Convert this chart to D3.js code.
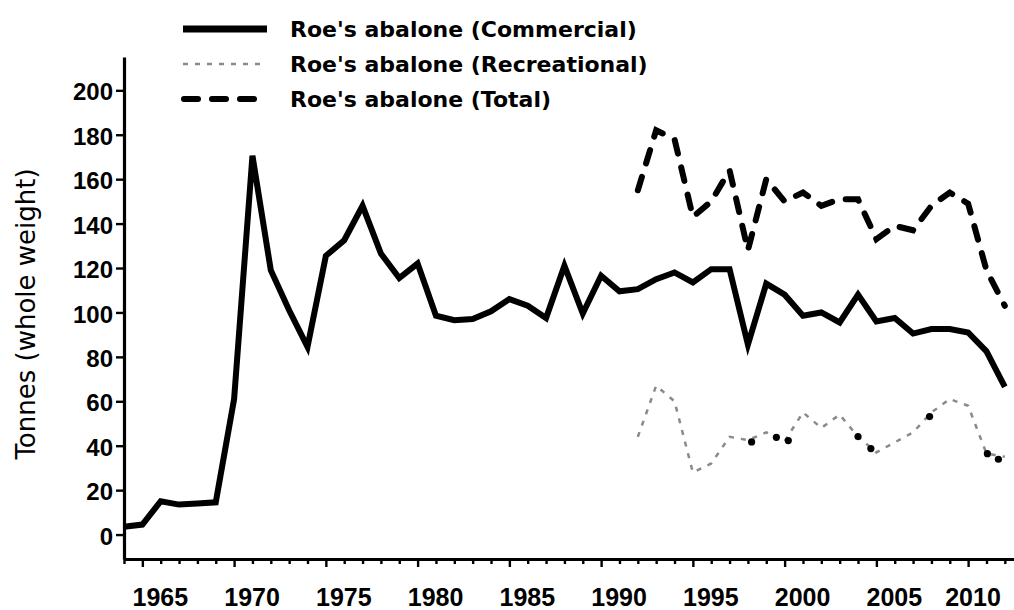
<!DOCTYPE html>
<html>
<head>
<meta charset="utf-8">
<script src="https://cdn.jsdelivr.net/npm/d3@7"></script>
<style>
    body { margin: 0; background: #fff; }
    svg { display: block; }
</style>
</head>
<body>
<svg id="chart" width="1014" height="610"></svg>
<script>
/*global d3*/

// Commercial catch, one value per season 1964-2012 (tonnes whole weight)
var commercialYears = d3.range(1964, 2013);
var commercial = [3.5, 4.5, 15, 13.5, 14, 14.5, 61, 170.5, 119, 101,
    84.5, 125.5, 132.5, 148, 126.5, 115.5, 122, 98.5, 96.5, 97,
    100.5, 106, 103, 97.5, 121, 99.5, 116.5, 109.5, 110.5, 115,
    118, 113.5, 119.5, 119.5, 85.5, 113, 108, 98.5, 100, 95.5,
    108, 96, 97.5, 90.5, 92.5, 92.5, 91, 82.5, 66.5];

// Recreational and total only exist from 1992
var recYears = d3.range(1992, 2013);
var recreational = [44, 67, 60, 28, 32, 44, 42.5, 46, 42, 55, 48, 54,
    44, 37, 41.5, 46, 55, 61, 58, 36.5, 35];
var total = [155, 182, 178, 143, 150, 164, 128, 160, 150, 154, 148, 151,
    151, 133, 139, 137, 148, 154, 149, 119, 103];

// the dark blobs that show up along the recreational line
var recDotYears = [1998.2, 1999.55, 2000.2, 2004.0, 2004.7, 2007.9, 2011.05, 2011.65];
var recDotValues = [41.7, 43.8, 42.3, 44.1, 38.7, 53.1, 36.4, 33.9];

var yTicks = [0, 20, 40, 60, 80, 100, 120, 140, 160, 180, 200];
var xLabels = [1965, 1970, 1975, 1980, 1985, 1990, 1995, 2000, 2005, 2010];

var legendNames = ["Roe's abalone (Commercial)", "Roe's abalone (Recreational)", "Roe's abalone (Total)"];

(function () {
    "use strict";

    var svg = d3.select("#chart"),
        x = d3.scaleLinear().domain([1964, 2012.5]).range([124, 1014]),
        y = d3.scaleLinear().domain([-11, 215]).range([559, 57]),
        tickFont = "'Liberation Sans', Arial, sans-serif",
        legendFont = "'DejaVu Sans', Verdana, sans-serif",
        line = d3.line()
            .x(function (d) { return x(d[0]); })
            .y(function (d) { return y(d[1]); }),
        styles = {
            commercial: { stroke: "#000", width: 6, dash: null, cap: "butt" },
            recreational: { stroke: "#8a8a8a", width: 2.5, dash: "5,7", cap: "butt" },
            total: { stroke: "#000", width: 6, dash: "14,14", cap: "round" }
        },
        xAxis,
        yAxis,
        legend;

    function pairs(xs, ys) {
        return xs.map(function (v, i) { return [v, ys[i]]; });
    }

    function styleLine(sel, s) {
        sel.attr("fill", "none")
            .attr("stroke", s.stroke)
            .attr("stroke-width", s.width)
            .attr("stroke-linecap", s.cap)
            .attr("stroke-linejoin", "miter")
            .attr("stroke-dasharray", s.dash);
    }

    // x axis: a tick every year, longer ones every fifth
    xAxis = svg.append("g")
        .attr("transform", "translate(0," + y(-11) + ")")
        .call(d3.axisBottom(x).tickValues(commercialYears).tickSizeInner(5).tickSizeOuter(0).tickFormat(""));
    xAxis.select(".domain").attr("stroke-width", 3.2);
    xAxis.selectAll(".tick line")
        .attr("stroke-width", 2.4)
        .attr("y2", function (d) { return d % 5 === 0 ? 8 : 5; });

    // labels sit a little to the right of their ticks, the last one is kept inside the frame
    svg.append("g").selectAll("text")
        .data(xLabels)
        .enter().append("text")
        .attr("x", function (d) { return Math.min(x(d) + 18, 973); })
        .attr("y", 606)
        .attr("text-anchor", "middle")
        .attr("font-family", tickFont)
        .attr("font-weight", "bold")
        .attr("font-size", 25)
        .text(function (d) { return d; });

    yAxis = svg.append("g")
        .attr("transform", "translate(" + x(1964) + ",0)")
        .call(d3.axisLeft(y).tickValues(yTicks).tickSizeInner(8).tickSizeOuter(0).tickPadding(3));
    yAxis.select(".domain").attr("stroke-width", 3.2);
    yAxis.selectAll(".tick line").attr("stroke-width", 2.4);
    yAxis.selectAll(".tick text")
        .attr("dy", "0.4em")
        .attr("font-family", tickFont)
        .attr("font-weight", "bold")
        .attr("font-size", 24)
        .attr("fill", "#000");

    svg.append("text")
        .attr("transform", "translate(35," + 314 + ") rotate(-90)")
        .attr("text-anchor", "middle")
        .attr("font-family", legendFont)
        .attr("font-size", 26)
        .text("Tonnes (whole weight)");

    // series
    svg.append("path")
        .datum(pairs(recYears, recreational))
        .attr("d", line)
        .call(styleLine, styles.recreational);

    svg.append("g").selectAll("circle")
        .data(pairs(recDotYears, recDotValues))
        .enter().append("circle")
        .attr("cx", function (d) { return x(d[0]); })
        .attr("cy", function (d) { return y(d[1]); })
        .attr("r", 3.6)
        .attr("fill", "#000");

    svg.append("path")
        .datum(pairs(commercialYears, commercial))
        .attr("d", line)
        .call(styleLine, styles.commercial);

    svg.append("path")
        .datum(pairs(recYears, total))
        .attr("d", line)
        .call(styleLine, styles.total);

    // legend
    legend = svg.append("g").selectAll("g")
        .data([styles.commercial, styles.recreational, styles.total])
        .enter().append("g")
        .attr("transform", function (d, i) { return "translate(0," + (29 + i * 35) + ")"; });

    legend.append("line")
        .attr("x1", function (d) { return d.cap === "round" ? 184 : 183; })
        .attr("x2", function (d) { return d.cap === "round" ? 257 : 267; })
        .each(function (d) {
            d3.select(this).call(styleLine, d);
            if (d === styles.commercial) {
                d3.select(this).attr("stroke-width", 7);
            }
        });

    legend.append("text")
        .attr("x", 290)
        .attr("y", 8)
        .attr("font-family", legendFont)
        .attr("font-weight", "bold")
        .attr("font-size", 22)
        .text(function (d, i) { return legendNames[i]; });
}());
</script>
</body>
</html>
